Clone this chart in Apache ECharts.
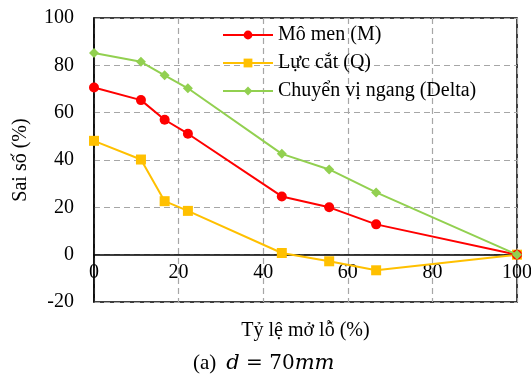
<!DOCTYPE html>
<html><head><meta charset="utf-8">
<script src="https://cdn.jsdelivr.net/npm/echarts@6/dist/echarts.min.js"></script>
<style>html,body{margin:0;padding:0;background:#fff}#c{width:531px;height:379px}</style>
</head><body><div id="c"></div>
<script>
const xValues = [0, 11.1, 16.7, 22.2, 44.4, 55.6, 66.7, 100];
const momen = [70.6, 65.3, 57.0, 51.1, 24.6, 20.0, 12.8, 0];
const lucCat = [48.1, 40.2, 22.6, 18.5, 0.7, -2.8, -6.6, 0];
const chuyenVi = [85.2, 81.5, 75.8, 70.3, 42.6, 36.0, 26.3, 0];
const seriesNames = ['Mô men (M)', 'Lực cắt (Q)', 'Chuyển vị ngang (Delta)'];
const xTicks = [0, 20, 40, 60, 80, 100];
const yTicks = [-20, 0, 20, 40, 60, 80, 100];

const font = '"Liberation Serif","Times New Roman",serif';
const mathFont = '"DejaVu Serif",serif';
const pair = arr => xValues.map((x, i) => [x, arr[i]]);
const chart = echarts.init(document.getElementById('c'), null, {renderer: 'canvas'});
const gridLine = {show: true, lineStyle: {color: '#a6a6a6', type: [6, 4], width: 1.2}};
const gridTop = 18, gridBottom = 77, H = 379;
const plotH = H - gridTop - gridBottom;
const yMin = yTicks[0], yMax = yTicks[yTicks.length - 1];
const zeroOffset = -plotH * (0 - yMin) / (yMax - yMin);
chart.setOption({
  animation: false,
  backgroundColor: '#fff',
  grid: {left: 94, right: 14, top: gridTop, bottom: gridBottom, outerBoundsMode: 'none', containLabel: false,
         show: true, borderColor: '#000', borderWidth: 1.5},
  title: {
    text: '{n|(a)}{i|d}{r| = 70}{i|mm}',
    left: 193, top: 353, padding: 0,
    textStyle: {fontWeight: 'normal', rich: {
      n: {fontFamily: font, fontSize: 21, color: '#000', padding: [0, 10, 0, 0]},
      i: {fontFamily: mathFont, fontSize: 21, fontStyle: 'italic', color: '#000'},
      r: {fontFamily: mathFont, fontSize: 20, color: '#000'}
    }}
  },
  legend: {
    orient: 'vertical', left: 222, top: 25, padding: 0, itemWidth: 50, itemHeight: 11, itemGap: 8,
    textStyle: {fontFamily: font, fontSize: 20, color: '#000'},
    data: seriesNames
  },
  xAxis: {
    type: 'value', min: xTicks[0], max: xTicks[xTicks.length - 1], interval: 20,
    offset: zeroOffset,
    name: 'Tỷ lệ mở lỗ (%)', nameLocation: 'middle', nameGap: 66, nameMoveOverlap: false,
    nameTextStyle: {fontFamily: font, fontSize: 20, color: '#000'},
    axisLine: {show: true, onZero: false, lineStyle: {color: '#000', width: 1.5}},
    axisTick: {show: false},
    axisLabel: {fontFamily: font, fontSize: 20, color: '#000', margin: 8},
    splitLine: gridLine
  },
  yAxis: {
    type: 'value', min: yMin, max: yMax, interval: 20,
    name: 'Sai số (%)', nameLocation: 'middle', nameGap: 63, nameMoveOverlap: false,
    nameTextStyle: {fontFamily: font, fontSize: 20, color: '#000'},
    axisLine: {show: true, lineStyle: {color: '#000', width: 1.5}},
    axisTick: {show: false},
    axisLabel: {fontFamily: font, fontSize: 20, color: '#000', margin: 20},
    splitLine: gridLine
  },
  series: [
    {name: seriesNames[0], type: 'line', data: pair(momen), symbol: 'circle', symbolSize: 10,
     itemStyle: {color: '#ff0000'}, lineStyle: {color: '#ff0000', width: 2}, z: 3},
    {name: seriesNames[1], type: 'line', data: pair(lucCat), symbol: 'rect', symbolSize: 10,
     itemStyle: {color: '#ffc000'}, lineStyle: {color: '#ffc000', width: 2}, z: 2},
    {name: seriesNames[2], type: 'line', data: pair(chuyenVi), symbol: 'diamond', symbolSize: 10,
     itemStyle: {color: '#92d050'}, lineStyle: {color: '#92d050', width: 2}, z: 4}
  ]
});
</script></body></html>
